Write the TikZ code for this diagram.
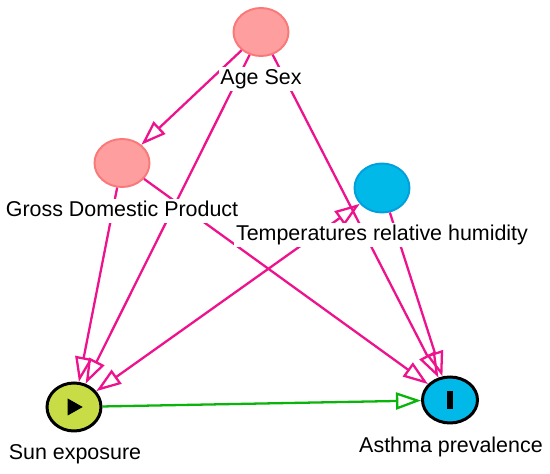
\documentclass[tikz,border=0pt]{standalone}
\usepackage{xcolor}
\usepackage{fontspec}
\setmainfont{Liberation Sans}
\usepackage{tikz}
\usetikzlibrary{shapes, arrows.meta, positioning}
\definecolor{arcpink}{RGB}{238,18,140}
\definecolor{arcgreen}{RGB}{10,180,10}
\definecolor{nodepink}{RGB}{255,158,158}
\definecolor{linepink}{RGB}{250,120,120}
\definecolor{nodeblue}{RGB}{0,185,232}
\definecolor{lineblue}{RGB}{0,160,220}
\definecolor{nodeyellow}{RGB}{200,220,70}

\begin{document}
\begin{tikzpicture}
  [
    >={Triangle[open, length=0.5cm, width=0.34cm]},
    Pink/.style={ellipse, draw=linepink, fill=nodepink, line width=1.1pt, minimum width=1.1cm, minimum height=0.96cm, inner sep=0pt},
    Blue/.style={ellipse, draw=lineblue, fill=nodeblue, line width=1.1pt, minimum width=1.1cm, minimum height=0.98cm, inner sep=0pt},
    Exposure/.style={ellipse, draw=black, fill=nodeyellow, line width=1.7pt, minimum width=1.08cm, minimum height=0.96cm, inner sep=0pt},
    Outcome/.style={ellipse, draw=black, fill=nodeblue, line width=1.7pt, minimum width=1.1cm, minimum height=0.92cm, inner sep=0pt},
    Lbl/.style={anchor=base, fill=white, inner sep=1pt, text height=0.95em, text depth=0.25em, font=\fontsize{12.2}{14}\selectfont},
    Arc/.style={draw=arcpink, line width=1.3pt},
    Causal/.style={draw=arcgreen, line width=1.3pt}
  ]
  \useasboundingbox (0,0) rectangle (11,-9.48);
  % Nodes
  \node[Pink] (age) at (5.22, -0.64) {};
  \node[Pink] (gdp) at (2.44, -3.26) {};
  \node[Blue] (temp) at (7.64, -3.76) {};
  \node[Exposure] (sun) at (1.48, -8.14) {};
  \node[Outcome] (asthma) at (9.00, -8.00) {};
  \fill ([shift={(-0.126,0.17)}]sun.center) -- ([shift={(0.174,0)}]sun.center)
    -- ([shift={(-0.126,-0.17)}]sun.center) -- cycle;
  \fill ([shift={(-0.06,-0.18)}]asthma.center) rectangle ([shift={(0.06,0.18)}]asthma.center);
  % Lines
  \path [->, Arc] (age) -- (gdp);
  \path [->, Arc] (age) -- (sun);
  \path [->, Arc] (age) -- (asthma);
  \path [->, Arc] (gdp) -- (sun);
  \path [->, Arc] (gdp) -- (asthma);
  \path [<->, Arc] (temp) -- (sun);
  \path [->, Arc] (temp) -- (asthma);
  \path [->, Causal] (sun) -- (asthma);
  % Labels
  \node[Lbl] (ageLbl) at (5.22, -1.70) {Age Sex};
  \node[Lbl] (gdpLbl) at (2.44, -4.34) {Gross Domestic Product};
  \node[Lbl] (tempLbl) at (7.64, -4.82) {Temperatures relative humidity};
  \node[Lbl] (sunLbl) at (1.50, -9.18) {Sun exposure};
  \node[Lbl] (asthmaLbl) at (9.02, -9.06) {Asthma prevalence};
\end{tikzpicture}
\end{document}
